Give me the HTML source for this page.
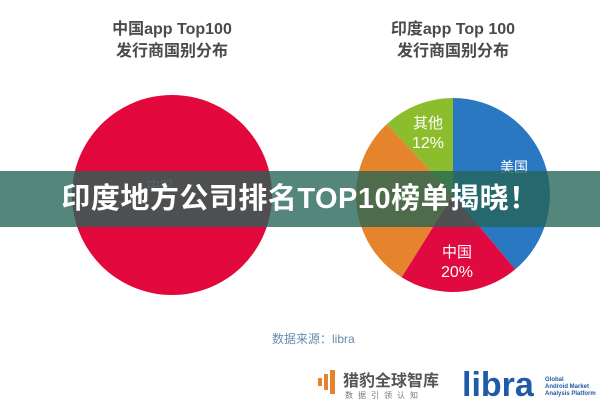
<!DOCTYPE html>
<html><head><meta charset="utf-8"><style>
body{margin:0;width:600px;height:400px;background:#fff;overflow:hidden;position:relative;font-family:"Liberation Sans","Noto Sans CJK SC",sans-serif}
.t{position:absolute;text-align:center;color:#4a4a4a;font-weight:bold;font-size:16px;line-height:22px}
.banner{position:absolute;left:0;top:171px;width:600px;height:56px;background:rgba(36,100,86,0.78);color:#fff;font-weight:bold;font-size:29px;line-height:56px;text-align:center;letter-spacing:0.5px}
</style></head><body>
<div class="t" style="left:72px;top:19px;width:200px">中国app Top100<br>发行商国别分布</div>
<div class="t" style="left:353px;top:19px;width:200px">印度app Top 100<br>发行商国别分布</div>
<svg width="600" height="400" style="position:absolute;left:0;top:0">
<circle cx="172" cy="195" r="100" fill="#e2083c"/>
<text x="160" y="190" font-size="13" fill="#f07090" text-anchor="middle" font-family="Liberation Sans,Noto Sans CJK SC,sans-serif">中国</text>
<g transform="translate(453,195)">
<path d="M0,0 L0,-97 A97,97 0 0,1 62.3,74.3 Z" fill="#2a78c2"/>
<path d="M0,0 L62.3,74.3 A97,97 0 0,1 -51.4,82.3 Z" fill="#e10a40"/>
<path d="M0,0 L-51.4,82.3 A97,97 0 0,1 -66.2,-70.9 Z" fill="#e5842c"/>
<path d="M0,0 L-66.2,-70.9 A97,97 0 0,1 0,-97 Z" fill="#8cbd2c"/>
</g>
<g font-family="Liberation Sans,Noto Sans CJK SC,sans-serif" fill="#fff" text-anchor="middle">
<text x="428" y="128" font-size="15">其他</text>
<text x="428" y="148" font-size="16">12%</text>
<text x="514" y="172" font-size="14">美国</text>
<text x="457" y="257" font-size="15">中国</text>
<text x="457" y="277" font-size="16">20%</text>
</g>
<text x="272" y="343" font-size="12" fill="#6a8ab0" font-family="Liberation Sans,Noto Sans CJK SC,sans-serif">数据来源：libra</text>
<g fill="#e5842c"><rect x="318" y="378" width="4" height="8"/><rect x="324" y="374" width="4" height="16"/><rect x="330" y="370" width="5" height="24"/></g>
<text x="343" y="386" font-size="16" font-weight="bold" fill="#555" font-family="Liberation Sans,Noto Sans CJK SC,sans-serif">猎豹全球智库</text>
<text x="345" y="398" font-size="8" fill="#777" letter-spacing="5" font-family="Liberation Sans,Noto Sans CJK SC,sans-serif">数据引领认知</text>
<text x="462" y="396" font-size="34" font-weight="bold" fill="#1e5aa8" font-family="Liberation Sans,sans-serif">libra</text>
<g font-size="6" font-weight="bold" font-family="Liberation Sans,sans-serif"><text x="545" y="381" fill="#1e5aa8">Global</text><text x="545" y="388" fill="#1e5aa8">Android Market</text><text x="545" y="395" fill="#1e5aa8">Analysis Platform</text></g>
</svg>
<div class="banner">印度地方公司排名TOP10榜单揭晓！</div>
</body></html>
